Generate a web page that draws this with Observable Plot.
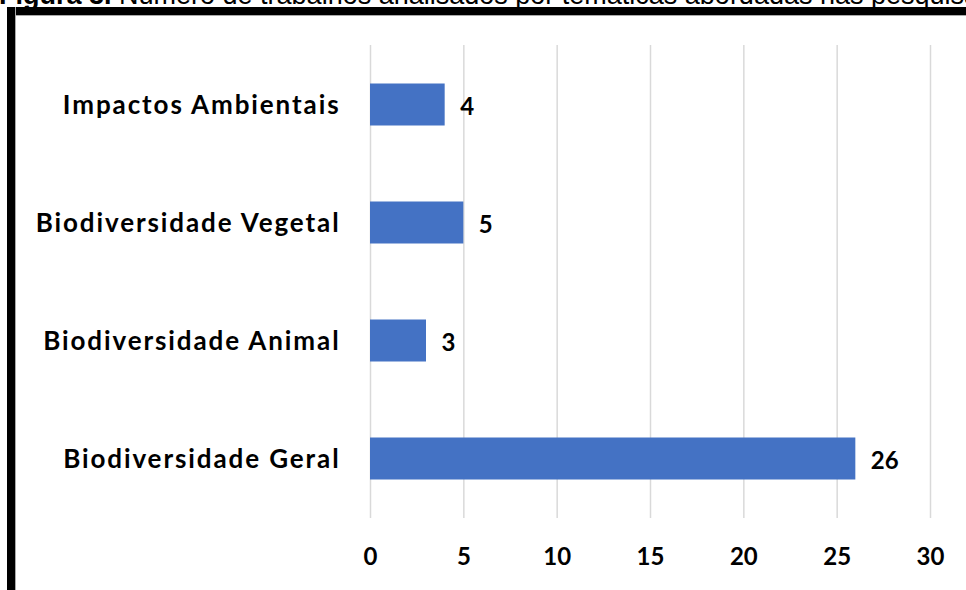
<!DOCTYPE html>
<html>
<head>
<meta charset="utf-8">
<script src="https://cdn.jsdelivr.net/npm/d3@7"></script>
<script src="https://cdn.jsdelivr.net/npm/@observablehq/plot@0.6"></script>
<style>
  html, body { margin: 0; padding: 0; background: #fff; overflow: hidden; }
  #wrap { position: relative; width: 966px; height: 590px; overflow: hidden; }
  #title { position: absolute; left: -1px; top: -20px; white-space: nowrap; line-height: 31px;
    font-family: "Liberation Sans", Arial, sans-serif; font-size: 27px; color: #000; }
  #bt { position: absolute; left: 7px; top: 7px; width: 959px; height: 8px; background: #000;
    border-bottom: 1px solid #aaa; }
  #bl { position: absolute; left: 7px; top: 7px; width: 8px; height: 583px; background: #000;
    border-right: 1px solid #aaa; }
  #chart { position: absolute; left: 0; top: 0; }
  #chart g[aria-label="y-axis tick label"] text { letter-spacing: 1.9px; }
</style>
</head>
<body>
<div id="wrap">
  <div id="chart"></div>
  <div id="title"><b>Figura 3.</b> Número de trabalhos analisados por temáticas abordadas nas pesquisas</div>
  <div id="bt"></div>
  <div id="bl"></div>
</div>
<script>
const categories = ["Impactos Ambientais", "Biodiversidade Vegetal", "Biodiversidade Animal", "Biodiversidade Geral"];
const values = [4, 5, 3, 26];
const xTicks = [0, 5, 10, 15, 20, 25, 30];

const data = categories.map((c, i) => ({category: c, value: values[i]}));
const font = "Lato, 'Open Sans', sans-serif";

const chart = Plot.plot({
  width: 966,
  height: 590,
  marginLeft: 370,
  marginRight: 36,
  marginTop: 45,
  marginBottom: 72,
  style: {fontFamily: font, fontWeight: "bold", color: "#000", background: "transparent"},
  x: {domain: [0, 30], ticks: xTicks, label: null},
  y: {domain: categories, paddingInner: 0.645, paddingOuter: 0.3225, label: null},
  marks: [
    Plot.gridX(xTicks, {stroke: "#d9d9d9", strokeOpacity: 1, strokeWidth: 1.5}),
    Plot.barX(data, {x: "value", y: "category", fill: "#4472C4", insetTop: -0.5, insetBottom: 0.5}),
    Plot.text(data, {x: "value", y: "category", text: d => String(d.value), textAnchor: "start", dx: 15, dy: 2, fontSize: 24, fontWeight: "bold", fill: "#000"}),
    Plot.axisX({ticks: xTicks, tickSize: 0, tickPadding: 29, fontSize: 24, fontWeight: "bold", fill: "#000", label: null}),
    Plot.axisY({tickSize: 0, tickPadding: 30, fontSize: 26, fontWeight: "bold", fill: "#000", label: null})
  ]
});
document.getElementById("chart").appendChild(chart);
</script>
</body>
</html>
